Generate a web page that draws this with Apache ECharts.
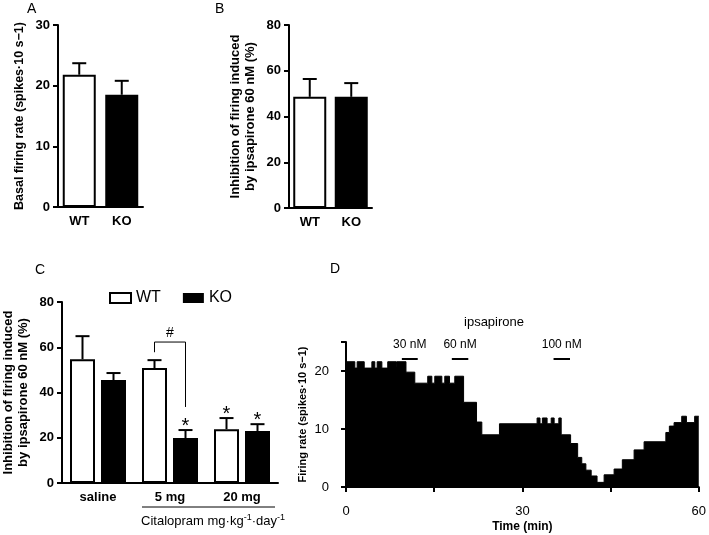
<!DOCTYPE html>
<html><head><meta charset="utf-8">
<script src="https://cdn.jsdelivr.net/npm/echarts@6/dist/echarts.min.js"></script>
<style>html,body{margin:0;padding:0;background:#fff}#c{width:709px;height:535px}</style>
</head><body><div id="c"></div>
<script>
var FONT = '"Liberation Sans", Arial, sans-serif';

// ---- data ----
var groups = ['WT', 'KO'];
var basalMean = [21.8, 18.5];
var basalSem = [1.9, 2.3];
var inhibMean = [48.6, 48.6];
var inhibSem = [7.8, 6.0];

var doses = ['saline', '5 mg', '20 mg'];
var citWT = [54.7, 50.8, 23.8];
var citWTsem = [10.2, 3.5, 4.9];
var citKO = [45.5, 19.9, 23.0];
var citKOsem = [3.1, 3.5, 3.0];
var sigWT = ['', '', '*'];
var sigKO = ['', '*', '*'];
var hashBracket = [1, 62.3, 57.8, 33.6]; // category, level, left end, right end

var traceTime = [0, 1.5, 1.9, 3.1, 4.4, 4.9, 5.3, 6.1, 7.1, 8.5, 8.6, 10.2, 11.7, 13.9, 14.6, 15.1, 16.3, 16.8, 17.6, 18.5, 20.0, 22.2, 23.1, 26.1, 32.5, 33.0, 33.4, 34.2, 34.9, 35.4, 36.2, 36.6, 38.2, 39.4, 40.1, 40.8, 41.7, 42.7, 43.9, 45.6, 47.0, 49.0, 50.7, 54.4, 55.0, 55.8, 57.1, 57.9, 59.3, 60];
var traceRate = [21.6, 20.5, 21.6, 20.5, 21.6, 20.5, 21.6, 20.5, 21.6, 20.5, 21.6, 19.8, 17.9, 19.1, 17.9, 19.1, 17.9, 19.1, 17.9, 19.1, 14.6, 11.2, 9.0, 10.9, 11.9, 10.9, 11.9, 10.9, 11.9, 10.9, 11.9, 9.0, 7.5, 5.1, 4.0, 2.9, 1.9, 0.8, 2.1, 3.1, 4.7, 6.4, 7.8, 9.4, 10.5, 11.1, 12.2, 11.1, 12.2, 12.2];
var drugNames = ['30 nM', '60 nM', '100 nM'];
var drugStart = [9.5, 18.0, 35.3];
var drugEnd = [12.2, 20.8, 38.1];
var drugLevel = 22.1;
var timeTicks = [0, 30, 60];

// ---- helpers ----
function catAxis(grid, data) {
  return {
    type: 'category', gridIndex: grid, data: data,
    axisLine: { lineStyle: { color: '#000', width: 2 } },
    axisTick: { alignWithLabel: true, length: 5, lineStyle: { color: '#000', width: 2 } },
    axisLabel: { color: '#000', fontWeight: 'bold', fontSize: 13, fontFamily: FONT, margin: 8 }
  };
}
function valAxis(grid, max, interval, name, gap, fs) {
  return {
    type: 'value', gridIndex: grid, min: 0, max: max, interval: interval,
    splitLine: { show: false },
    axisLine: { show: true, lineStyle: { color: '#000', width: 2 } },
    axisTick: { show: true, length: 5, lineStyle: { color: '#000', width: 2 } },
    axisLabel: { color: '#000', fontWeight: 'bold', fontSize: 13, fontFamily: FONT, margin: 8 },
    name: name, nameLocation: 'middle', nameRotate: 90, nameGap: gap,
    nameTextStyle: { color: '#000', fontWeight: 'bold', fontSize: fs, fontFamily: FONT, lineHeight: 15 }
  };
}
function errSeries(axisIdx, mean, sem, off, sig) {
  return {
    type: 'custom', xAxisIndex: axisIdx, yAxisIndex: axisIdx, z: 5, silent: true,
    data: mean.map(function (m, i) { return [i, m, m + sem[i]]; }),
    renderItem: function (params, api) {
      var p0 = api.coord([api.value(0), api.value(1)]);
      var p1 = api.coord([api.value(0), api.value(2)]);
      var cx = p0[0] + off;
      var ch = [
        { type: 'line', shape: { x1: cx, y1: p0[1], x2: cx, y2: p1[1] }, style: { stroke: '#000', lineWidth: 2 } },
        { type: 'line', shape: { x1: cx - 7, y1: p1[1], x2: cx + 7, y2: p1[1] }, style: { stroke: '#000', lineWidth: 2 } }
      ];
      var s = sig ? sig[params.dataIndex] : '';
      if (s) {
        ch.push({ type: 'text', x: cx, y: p1[1] - 4, style: { text: s, fill: '#000', fontSize: 20, fontFamily: FONT, textAlign: 'center', textVerticalAlign: 'middle' } });
      }
      return { type: 'group', children: ch };
    }
  };
}
function abColor(p) { return p.dataIndex === 0 ? '#fff' : '#000'; }

var chart = echarts.init(document.getElementById('c'));
var option = {
  animation: false,
  textStyle: { fontFamily: FONT },
  grid: [
    { left: 58, top: 25, width: 85, height: 182 },
    { left: 289, top: 25, width: 83, height: 183 },
    { left: 60, top: 302, width: 218, height: 181 },
    { left: 346, top: 342, width: 354, height: 145 }
  ],
  legend: {
    left: 104, top: 285, itemWidth: 21, itemHeight: 10, itemGap: 22,
    textStyle: { fontSize: 16, color: '#000', fontFamily: FONT },
    data: [
      { name: 'WT', icon: 'rect', itemStyle: { color: '#fff', borderColor: '#000', borderWidth: 2 } },
      { name: 'KO', icon: 'rect', itemStyle: { color: '#000', borderWidth: 0 } }
    ]
  },
  xAxis: [
    catAxis(0, groups),
    catAxis(1, groups),
    catAxis(2, doses),
    {
      type: 'value', gridIndex: 3, min: 0, max: 60, interval: 15, offset: 10,
      splitLine: { show: false },
      axisLine: { lineStyle: { color: '#000', width: 2 } },
      axisTick: { length: 5, lineStyle: { color: '#000', width: 2 } },
      axisLabel: { color: '#000', fontSize: 13, fontFamily: FONT, margin: 8,
        formatter: function (v) { return timeTicks.indexOf(v) >= 0 ? String(v) : ''; } },
      name: 'Time (min)', nameLocation: 'middle', nameGap: 24,
      nameTextStyle: { color: '#000', fontWeight: 'bold', fontSize: 12, fontFamily: FONT }
    }
  ],
  yAxis: [
    valAxis(0, 30, 10, 'Basal firing rate (spikes·10 s\u22121)', 31, 12.5),
    valAxis(1, 80, 20, 'Inhibition of firing induced\nby ipsapirone 60 nM (%)', 31, 13),
    valAxis(2, 80, 20, 'Inhibition of firing induced\nby ipsapirone 60 nM (%)', 31, 13),
    {
      type: 'value', gridIndex: 3, min: 0, max: 25, interval: 10, offset: 9,
      splitLine: { show: false },
      axisLine: { show: true, lineStyle: { color: '#000', width: 2 } },
      axisTick: { show: true, length: 5, lineStyle: { color: '#000', width: 2 } },
      axisLabel: { color: '#000', fontSize: 13, fontFamily: FONT, margin: 8,
        formatter: function (v) { return v % 10 === 0 ? String(v) : ''; } },
      name: 'Firing rate (spikes·10 s\u22121)', nameLocation: 'middle', nameRotate: 90, nameGap: 29,
      nameTextStyle: { color: '#000', fontWeight: 'bold', fontSize: 11, fontFamily: FONT }
    }
  ],
  series: [
    { type: 'bar', name: 'basal', xAxisIndex: 0, yAxisIndex: 0, data: basalMean, barWidth: 33,
      itemStyle: { color: abColor, borderColor: '#000', borderWidth: 2 } },
    errSeries(0, basalMean, basalSem, 0, null),
    { type: 'bar', name: 'inhib', xAxisIndex: 1, yAxisIndex: 1, data: inhibMean, barWidth: 33,
      itemStyle: { color: abColor, borderColor: '#000', borderWidth: 2 } },
    errSeries(1, inhibMean, inhibSem, 0, null),
    { type: 'bar', name: 'WT', xAxisIndex: 2, yAxisIndex: 2, data: citWT, barWidth: 25, barGap: '24%',
      itemStyle: { color: '#fff', borderColor: '#000', borderWidth: 2 } },
    { type: 'bar', name: 'KO', xAxisIndex: 2, yAxisIndex: 2, data: citKO, barWidth: 25, barGap: '24%',
      itemStyle: { color: '#000', borderColor: '#000', borderWidth: 2 } },
    errSeries(2, citWT, citWTsem, -15.5, sigWT),
    errSeries(2, citKO, citKOsem, 15.5, sigKO),
    {
      type: 'custom', name: 'bracket', xAxisIndex: 2, yAxisIndex: 2, z: 6, silent: true,
      data: [hashBracket],
      renderItem: function (params, api) {
        var c = api.value(0);
        var top = api.coord([c, api.value(1)]);
        var lb = api.coord([c, api.value(2)]);
        var rb = api.coord([c, api.value(3)]);
        var xl = top[0] - 15.5, xr = top[0] + 15.5;
        return { type: 'group', children: [
          { type: 'polyline', shape: { points: [[xl, lb[1]], [xl, top[1]], [xr, top[1]], [xr, rb[1]]] },
            style: { stroke: '#000', lineWidth: 1, fill: null } },
          { type: 'text', x: top[0], y: top[1] - 9, style: { text: '#', fill: '#000', fontSize: 14, fontFamily: FONT, textAlign: 'center', textVerticalAlign: 'middle' } }
        ] };
      }
    },
    {
      type: 'line', name: 'trace', xAxisIndex: 3, yAxisIndex: 3, step: 'end', symbol: 'none',
      data: traceTime.map(function (t, i) { return [t, traceRate[i]]; }),
      lineStyle: { color: '#000', width: 1 },
      areaStyle: { color: '#000', opacity: 1 },
      markLine: {
        silent: true, symbol: ['none', 'none'],
        lineStyle: { color: '#000', width: 2, type: 'solid' },
        label: { show: true, position: 'middle', formatter: '{b}', color: '#000', fontSize: 12, fontFamily: FONT, distance: 8 },
        data: drugNames.map(function (n, i) {
          return [{ name: n, coord: [drugStart[i], drugLevel] }, { coord: [drugEnd[i], drugLevel] }];
        })
      }
    }
  ],
  graphic: [
    { type: 'text', left: 27, top: 2, style: { text: 'A', fontSize: 14, fill: '#000', fontFamily: FONT } },
    { type: 'text', left: 215, top: 2, style: { text: 'B', fontSize: 14, fill: '#000', fontFamily: FONT } },
    { type: 'text', left: 35, top: 263, style: { text: 'C', fontSize: 14, fill: '#000', fontFamily: FONT } },
    { type: 'text', left: 330, top: 262, style: { text: 'D', fontSize: 14, fill: '#000', fontFamily: FONT } },
    { type: 'text', x: 494, y: 322, style: { text: 'ipsapirone', fontSize: 13, fill: '#000', fontFamily: FONT, textAlign: 'center', textVerticalAlign: 'middle' } },
    { type: 'line', shape: { x1: 142, y1: 507, x2: 275, y2: 507 }, style: { stroke: '#000', lineWidth: 1 } },
    { type: 'text', x: 213, y: 521, style: {
        text: 'Citalopram mg·kg{s|-1}·day{s|-1}', fontSize: 13, fill: '#000', fontFamily: FONT,
        textAlign: 'center', textVerticalAlign: 'middle',
        rich: { s: { fontSize: 9, fill: '#000', fontFamily: FONT, verticalAlign: 'top', padding: [0, 0, 6, 0] } }
      } }
  ]
};
chart.setOption(option);
</script>
</body></html>
